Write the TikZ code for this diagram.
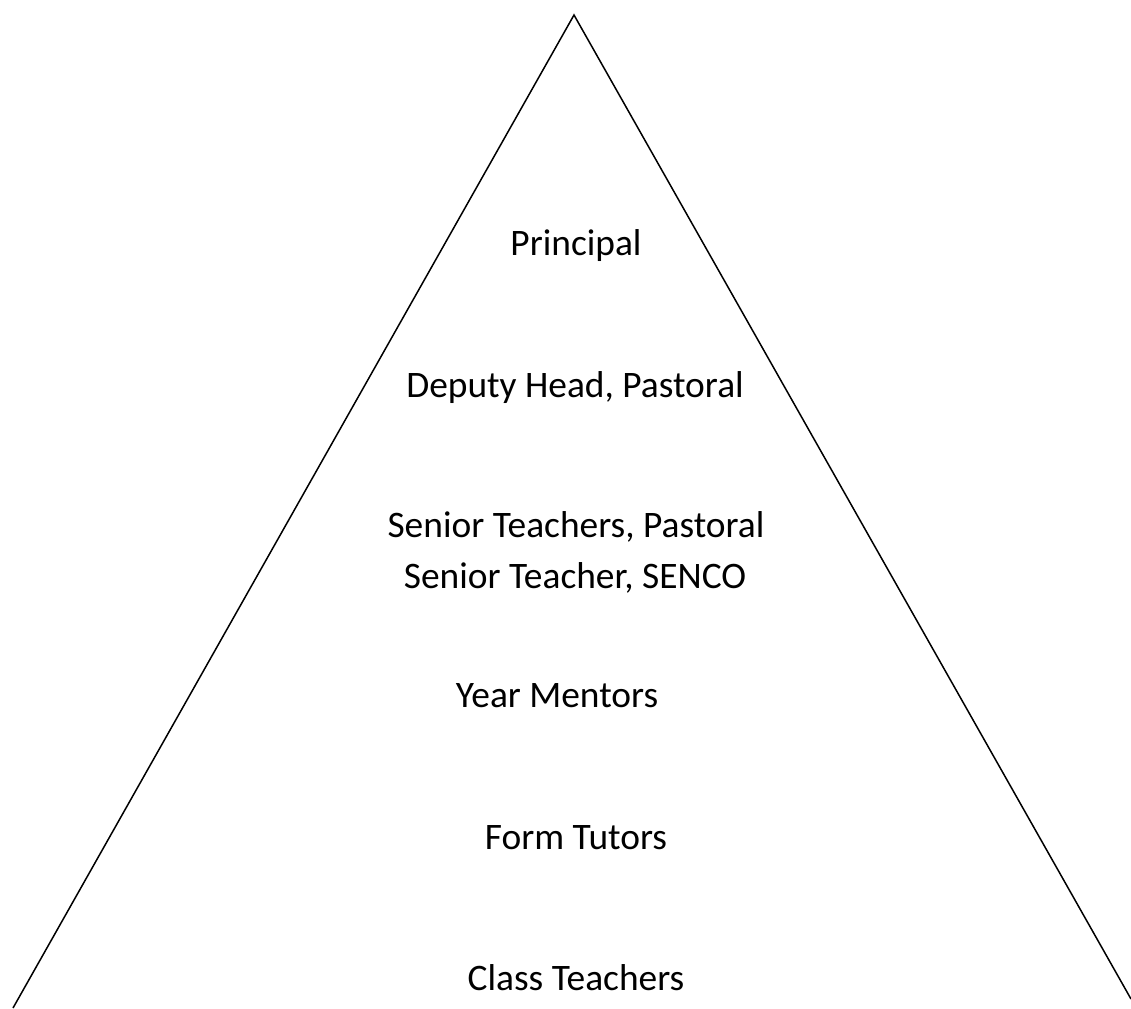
\documentclass[tikz,border=0pt]{standalone}
\usepackage{fontspec}
\setmainfont{Carlito}
\tikzset{rank/.style={anchor=base,inner sep=0pt,font=\fontsize{18.7}{22}\selectfont}}
\begin{document}
\begin{tikzpicture}[x=0.5pt,y=-0.5pt]
\useasboundingbox (0,0) rectangle (1131,1008);
\coordinate (top) at (574,15);
\coordinate (bl) at (13,1008);
\coordinate (br) at (1131,999);
\draw[line width=0.75pt] (bl) -- (top) -- (br);

\node[rank] (principal) at (576,255) {Principal};
\node[rank] (deputy) at (575,397) {Deputy Head, Pastoral};
\node[rank] (senior) at (576,537) {Senior Teachers, Pastoral};
\node[rank] (senco) at (575,588) {Senior Teacher, SENCO};
\node[rank] (mentors) at (557,707) {Year Mentors};
\node[rank] (tutors) at (576,849) {Form Tutors};
\node[rank] (teachers) at (576,990) {Class Teachers};

\end{tikzpicture}
\end{document}
